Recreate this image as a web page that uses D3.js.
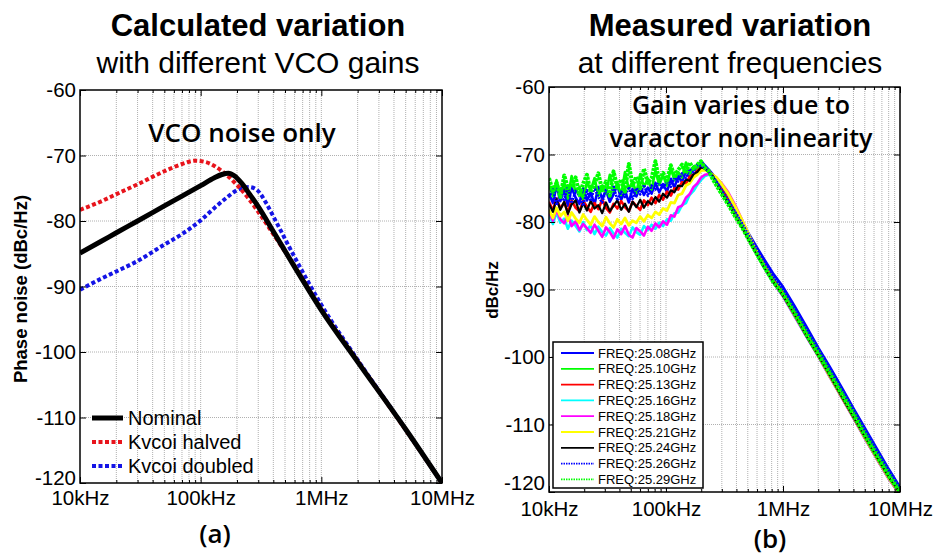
<!DOCTYPE html>
<html>
<head>
<meta charset="utf-8">
<script src="https://cdn.jsdelivr.net/npm/d3@7"></script>
<style>
  body { margin: 0; background: #fff; }
  svg { display: block; font-family: 'Liberation Sans', Arial, sans-serif; }
</style>
</head>
<body>
<svg id="chart" width="934" height="558"></svg>
<script>
// axis ticks shared by both panels
const decadeTicks = [1e4, 1e5, 1e6, 1e7];
const decadeLabels = ['10kHz', '100kHz', '1MHz', '10MHz'];
const dbTicks = [-120, -110, -100, -90, -80, -70, -60];

// (a) calculated phase noise, frequency in kHz, value in dBc/Hz
const nominalFreq = [10, 15, 20, 30, 50, 70, 100, 130, 150, 170, 190, 220, 250, 300, 400, 600, 1000, 2000, 5000, 10000];
const nominalDb = [-84.9, -83.1, -81.8, -80.0, -77.7, -76.2, -74.6, -73.4, -72.9, -72.7, -73.1, -74.3, -75.7, -77.8, -81.6, -87.0, -93.6, -101.5, -111.8, -120];
const halvedFreq = [10, 15, 20, 30, 50, 70, 90, 110, 130, 160, 200, 250, 300, 400, 600, 1000, 2000, 5000, 10000];
const halvedDb = [-78.3, -77.0, -75.9, -74.4, -72.4, -71.3, -70.8, -71.0, -71.6, -72.8, -74.5, -76.6, -78.6, -82.0, -86.9, -93.5, -101.4, -111.9, -120];
const doubledFreq = [10, 15, 20, 30, 50, 70, 100, 130, 160, 200, 250, 290, 350, 400, 600, 1000, 2000, 5000, 10000];
const doubledDb = [-90.5, -88.8, -87.7, -86.1, -83.6, -82.0, -79.9, -78.0, -76.6, -75.3, -74.8, -75.2, -77.3, -79.3, -85.5, -92.8, -101.2, -111.8, -120];
const calcLabels = ['Nominal', 'Kvcoi halved', 'Kvcoi doubled'];

// (b) measured phase noise, frequency in kHz, value in dBc/Hz
const measFreq = [10, 10.8, 11.6, 12.5, 13.5, 14.5, 15.6, 16.9, 18.2, 19.6, 21.1, 22.7, 24.5, 26.4, 28.5, 30.7,
  33.1, 35.6, 38.4, 41.4, 44.6, 48.1, 51.8, 55.8, 60.2, 64.8, 69.9, 75.3, 81.2, 87.5, 94.3, 102, 110, 118, 127, 137,
  148, 159, 172, 185, 199, 215, 231, 250, 270, 300, 340, 390, 450, 520, 600, 700, 820, 1000, 1250, 1600, 2000, 2500,
  3200, 4000, 5000, 6300, 8000, 10000];
const meas2508 = [-75.8, -77.2, -74.6, -76.9, -75.2, -77.6, -74.9, -76.4, -77.3, -75.0, -76.8, -75.6, -77.4, -74.8, -76.6, -75.3,
  -77.0, -75.9, -74.5, -76.7, -75.4, -77.1, -75.1, -76.2, -74.7, -76.0, -74.9, -75.8, -74.2, -75.6, -74.4, -75.5, -73.6, -74.9, -73.2, -74.1,
  -72.4, -73.3, -71.8, -72.2, -71.0, -71.6, -72.2, -72.9, -73.6, -75.0, -76.4, -78.2, -80.0, -82.0, -83.8, -85.7, -87.6, -89.6, -92.4, -95.6,
  -98.6, -101.4, -104.6, -107.6, -110.5, -113.5, -116.6, -119.3];
const meas2510 = [-74.5, -76.2, -73.8, -75.9, -74.1, -76.5, -73.2, -75.6, -74.8, -76.8, -74.0, -75.3, -73.5, -76.1, -74.6, -75.8,
  -73.0, -75.4, -74.2, -76.0, -72.6, -75.1, -74.0, -75.7, -72.9, -74.8, -73.6, -75.2, -72.4, -74.5, -73.1, -74.6, -72.0, -73.8, -72.6, -73.4,
  -71.2, -72.9, -71.8, -72.4, -71.3, -71.9, -72.6, -73.3, -74.3, -75.6, -77.1, -78.8, -80.5, -82.6, -84.4, -86.5, -88.3, -90.3, -93.0, -96.2,
  -99.0, -101.9, -105.1, -108.0, -111.0, -114.0, -117.0, -119.6];
const meas2513 = [-77.0, -78.3, -76.5, -78.0, -77.1, -78.6, -76.8, -77.9, -78.4, -76.9, -77.7, -78.5, -77.2, -78.1, -76.7, -77.9,
  -78.6, -77.3, -78.0, -76.9, -77.8, -78.4, -77.0, -77.6, -78.2, -76.8, -77.5, -76.4, -77.2, -76.0, -76.7, -75.5, -76.1, -75.0, -75.2, -74.1,
  -74.3, -73.3, -73.0, -72.4, -72.0, -72.1, -72.5, -73.0, -73.9, -75.0, -76.5, -78.3, -80.2, -82.3, -84.4, -86.4, -88.5, -90.6, -93.6, -96.9,
  -99.8, -102.8, -106.1, -109.0, -112.0, -115.0, -118.0, -120.4];
const meas2516 = [-79.0, -80.3, -78.6, -80.1, -79.5, -81.0, -79.8, -80.6, -81.4, -80.0, -81.2, -80.5, -81.8, -80.7, -81.5, -82.0,
  -80.9, -81.7, -82.3, -81.0, -81.6, -82.1, -80.8, -81.5, -81.9, -80.6, -81.2, -80.4, -81.0, -80.1, -80.6, -79.6, -79.8, -78.7, -78.6, -77.5,
  -77.2, -76.0, -75.4, -74.5, -73.8, -73.2, -73.0, -73.2, -73.6, -74.5, -75.9, -77.8, -80.0, -82.5, -84.8, -86.9, -88.9, -91.0, -93.9, -97.1,
  -99.9, -102.9, -106.1, -109.0, -112.0, -115.0, -118.0, -120.3];
const meas2518 = [-78.5, -79.8, -78.2, -79.6, -80.2, -79.0, -80.6, -79.9, -81.2, -80.3, -80.9, -81.6, -80.4, -81.3, -82.2, -80.8,
  -81.5, -82.4, -81.1, -81.8, -80.6, -81.9, -82.3, -80.9, -81.4, -82.0, -80.7, -81.3, -80.2, -80.8, -79.9, -80.4, -79.0, -79.2, -77.8, -77.6,
  -76.4, -75.9, -74.8, -74.3, -73.4, -73.0, -72.9, -73.0, -73.5, -74.3, -75.6, -77.5, -79.8, -82.3, -84.6, -86.8, -88.9, -91.0, -93.9, -97.1,
  -99.9, -102.9, -106.1, -109.0, -112.0, -115.0, -118.0, -120.3];
const meas2521 = [-78.2, -79.4, -77.9, -79.1, -78.5, -79.8, -78.6, -79.5, -80.1, -78.9, -79.7, -80.4, -79.2, -80.0, -80.6, -79.3,
  -80.2, -80.8, -79.6, -80.3, -79.4, -80.5, -79.8, -80.1, -79.2, -79.9, -79.0, -79.4, -78.5, -78.9, -78.0, -78.3, -77.1, -77.2, -76.0, -75.8,
  -74.6, -74.3, -73.4, -73.0, -72.4, -72.3, -72.6, -73.0, -73.4, -74.4, -75.8, -77.7, -79.8, -82.2, -84.5, -86.6, -88.7, -90.8, -93.7, -96.9,
  -99.8, -102.8, -106.0, -108.9, -111.9, -114.9, -117.9, -120.2];
const meas2524 = [-77.3, -78.5, -76.6, -78.2, -77.0, -78.8, -77.4, -76.8, -78.6, -77.2, -78.3, -76.9, -78.0, -77.5, -78.7, -77.1,
  -78.4, -77.6, -76.8, -78.2, -77.3, -78.5, -77.0, -77.8, -76.7, -77.9, -76.9, -77.4, -76.3, -77.0, -75.8, -76.4, -75.3, -75.6, -74.6, -74.7,
  -73.7, -73.9, -72.9, -72.6, -71.9, -72.1, -72.6, -73.1, -74.2, -75.6, -77.2, -79.0, -80.9, -83.0, -84.9, -86.9, -88.8, -90.9, -93.7, -97.0,
  -99.8, -102.7, -106.0, -108.9, -111.8, -114.8, -117.8, -120.2];
const meas2526 = [-76.4, -75.1, -77.5, -75.7, -76.9, -74.7, -77.2, -75.4, -76.1, -77.6, -75.3, -76.9, -74.9, -76.3, -77.1, -75.2,
  -76.4, -74.6, -76.8, -75.5, -76.3, -74.8, -76.6, -75.0, -75.9, -74.5, -76.1, -74.6, -75.2, -74.0, -75.1, -73.9, -74.8, -73.4, -74.0, -72.8,
  -73.5, -72.1, -72.6, -71.5, -71.7, -72.0, -72.6, -73.2, -74.0, -75.3, -76.8, -78.5, -80.3, -82.3, -84.2, -86.1, -88.0, -90.0, -92.8, -96.0,
  -98.9, -101.8, -105.0, -107.9, -110.9, -113.9, -116.9, -119.5];
const meas2529 = [-73.5, -75.4, -74.2, -76.3, -73.1, -75.0, -74.7, -73.4, -76.0, -74.3, -73.0, -75.6, -74.4, -72.8, -75.3, -74.0,
  -76.1, -72.5, -74.9, -73.7, -75.5, -71.4, -74.6, -73.3, -75.0, -72.1, -74.2, -73.5, -71.0, -74.0, -72.7, -73.9, -71.6, -73.2, -72.3, -71.5,
  -72.8, -71.2, -72.1, -71.5, -71.0, -72.0, -72.4, -73.6, -74.6, -75.9, -77.4, -79.2, -80.9, -82.9, -84.8, -86.8, -88.8, -90.7, -93.5, -96.8,
  -99.6, -102.4, -105.6, -108.6, -111.6, -114.6, -117.6, -120.0];
const measLabels = ['FREQ:25.08GHz', 'FREQ:25.10GHz', 'FREQ:25.13GHz', 'FREQ:25.16GHz', 'FREQ:25.18GHz',
  'FREQ:25.21GHz', 'FREQ:25.24GHz', 'FREQ:25.26GHz', 'FREQ:25.29GHz'];

const calcSeries = [
  { freq: nominalFreq, db: nominalDb, color: '#000', width: 5, dash: null },
  { freq: halvedFreq, db: halvedDb, color: '#e8141c', width: 4, dash: '4,2.5' },
  { freq: doubledFreq, db: doubledDb, color: '#1414e6', width: 4, dash: '4,2.5' },
];
const measSeries = [
  { db: meas2508, color: '#0000ff', width: 2.6, dash: null },
  { db: meas2510, color: '#00ff00', width: 2.6, dash: null },
  { db: meas2513, color: '#ff0000', width: 2.6, dash: null },
  { db: meas2516, color: '#00ffff', width: 2.6, dash: null },
  { db: meas2518, color: '#ff00ff', width: 2.6, dash: null },
  { db: meas2521, color: '#ffff00', width: 2.8, dash: null },
  { db: meas2524, color: '#000000', width: 2.2, dash: null },
  { db: meas2526, color: '#0000ff', width: 2.6, dash: '2,1' },
  { db: meas2529, color: '#00ff00', width: 4, dash: '3,1' },
];

const svg = d3.select('#chart');
const tickFont = "'Liberation Sans', Arial, sans-serif";

function drawPanel(box, clipId, labelPad) {
  const x = d3.scaleLog().domain([1e4, 1e7]).range([box.left, box.right]);
  const y = d3.scaleLinear().domain([-120, -60]).range([box.bottom, box.top]);
  const minorTicks = x.ticks().filter((d) => !decadeTicks.includes(d));
  const panel = svg.append('g');

  // dotted grid
  const grid = panel.append('g').attr('stroke', '#b0b0b0').attr('stroke-dasharray', '1,1');
  grid
    .selectAll('.vgrid')
    .data([...minorTicks, ...decadeTicks.slice(1, -1)])
    .join('line')
    .attr('x1', (d) => x(d))
    .attr('x2', (d) => x(d))
    .attr('y1', box.top)
    .attr('y2', box.bottom);
  grid
    .selectAll('.hgrid')
    .data(dbTicks.slice(1, -1))
    .join('line')
    .attr('x1', box.left)
    .attr('x2', box.right)
    .attr('y1', (d) => y(d))
    .attr('y2', (d) => y(d));

  svg.append('clipPath').attr('id', clipId).append('rect')
    .attr('x', box.left).attr('y', box.top)
    .attr('width', box.right - box.left).attr('height', box.bottom - box.top);
  const plot = panel.append('g').attr('clip-path', `url(#${clipId})`);

  // axes, ticks pointing inwards like matlab
  const axes = panel.append('g');
  const gx = axes.append('g').attr('transform', `translate(0,${box.bottom})`)
    .call(d3.axisBottom(x).tickValues(decadeTicks).tickFormat((d, i) => decadeLabels[i]).tickSizeInner(-6).tickSizeOuter(0).tickPadding(labelPad));
  axes.append('g').attr('transform', `translate(0,${box.bottom})`)
    .call(d3.axisBottom(x).tickValues(minorTicks).tickFormat('').tickSizeInner(-3).tickSizeOuter(0));
  axes.append('g').attr('transform', `translate(0,${box.top})`)
    .call(d3.axisTop(x).tickValues(decadeTicks).tickFormat('').tickSizeInner(-6).tickSizeOuter(0));
  axes.append('g').attr('transform', `translate(0,${box.top})`)
    .call(d3.axisTop(x).tickValues(minorTicks).tickFormat('').tickSizeInner(-3).tickSizeOuter(0));
  const gy = axes.append('g').attr('transform', `translate(${box.left},0)`)
    .call(d3.axisLeft(y).tickValues(dbTicks).tickFormat((d) => String(d)).tickSizeInner(-6).tickSizeOuter(0).tickPadding(4));
  axes.append('g').attr('transform', `translate(${box.right},0)`)
    .call(d3.axisRight(y).tickValues(dbTicks).tickFormat('').tickSizeInner(-6).tickSizeOuter(0));
  axes.selectAll('.domain').remove();
  axes.selectAll('.tick line').attr('stroke', '#000');
  axes.selectAll('text').attr('font-family', tickFont).attr('font-size', 20.5).attr('fill', '#000');

  panel.append('rect')
    .attr('x', box.left).attr('y', box.top)
    .attr('width', box.right - box.left).attr('height', box.bottom - box.top)
    .attr('fill', 'none').attr('stroke', '#000').attr('stroke-width', 1.5);

  return { x, y, plot, panel, gx, gy };
}

function addTitle(cx, bold, plain) {
  svg.append('text').attr('x', cx).attr('y', 36).attr('text-anchor', 'middle')
    .attr('font-size', 31).attr('font-weight', 'bold').text(bold);
  svg.append('text').attr('x', cx).attr('y', 73).attr('text-anchor', 'middle')
    .attr('font-size', 30).text(plain);
}

function addNote(lines, cx, y0, size) {
  const t = svg.append('text').attr('text-anchor', 'middle')
    .attr('font-family', "'Open Sans', sans-serif").attr('font-weight', 600).attr('font-size', size);
  lines.forEach((s, i) => t.append('tspan').attr('x', cx).attr('y', y0 + i * 33).text(s));
}

// ---------- (a) calculated ----------
const a = drawPanel({ left: 80, right: 442, top: 90, bottom: 483 }, 'clip-a', 7);
a.gy.selectAll('.tick').filter((d) => d === -120).select('text').attr('dy', '0.05em');
const calcLine = d3.line().x((d) => a.x(d[0] * 1e3)).y((d) => a.y(d[1])).curve(d3.curveMonotoneX);
calcSeries.slice().reverse().forEach((s) => {
  a.plot.append('path')
    .datum(s.freq.map((f, i) => [f, s.db[i]]))
    .attr('d', calcLine)
    .attr('fill', 'none')
    .attr('stroke', s.color)
    .attr('stroke-width', s.width)
    .attr('stroke-dasharray', s.dash);
});

const legendA = a.panel.append('g');
calcSeries.forEach((s, i) => {
  const ly = 418 + i * 24;
  legendA.append('line').attr('x1', 92).attr('x2', 123).attr('y1', ly).attr('y2', ly)
    .attr('stroke', s.color).attr('stroke-width', s.width).attr('stroke-dasharray', s.dash);
  legendA.append('text').attr('x', 128).attr('y', ly + 7).attr('font-size', 20).text(calcLabels[i]);
});

svg.append('text')
  .attr('transform', 'translate(27,289) rotate(-90)')
  .attr('text-anchor', 'middle').attr('font-size', 18.5).attr('font-weight', 'bold')
  .text('Phase noise (dBc/Hz)');
addTitle(258, 'Calculated variation', 'with different VCO gains');
addNote(['VCO noise only'], 242, 142, 26);
addNote(['(a)'], 215, 543, 26);

// ---------- (b) measured ----------
const b = drawPanel({ left: 549, right: 900, top: 87, bottom: 492 }, 'clip-b', 9);
b.gy.selectAll('.tick').filter((d) => d === -120).select('text').attr('dy', '-0.1em');
const measLine = d3.line().x((d) => b.x(d[0] * 1e3)).y((d) => b.y(d[1]));
measSeries.forEach((s) => {
  b.plot.append('path')
    .datum(measFreq.map((f, i) => [f, s.db[i]]))
    .attr('d', measLine)
    .attr('fill', 'none')
    .attr('stroke', s.color)
    .attr('stroke-width', s.width)
    .attr('stroke-dasharray', s.dash)
    .attr('stroke-linejoin', 'round');
});

const legendB = b.panel.append('g');
legendB.append('rect').attr('x', 553).attr('y', 342).attr('width', 150).attr('height', 146)
  .attr('fill', '#fff').attr('stroke', '#000').attr('stroke-width', 1.5);
measSeries.forEach((s, i) => {
  const ly = 353 + i * 15.8;
  legendB.append('line').attr('x1', 561).attr('x2', 594).attr('y1', ly).attr('y2', ly)
    .attr('stroke', s.color).attr('stroke-width', 1.8).attr('stroke-dasharray', s.dash ? '1.5,1' : null);
  legendB.append('text').attr('x', 598).attr('y', ly + 4.6).attr('font-size', 13).text(measLabels[i]);
});

svg.append('text')
  .attr('transform', 'translate(498,290) rotate(-90)')
  .attr('text-anchor', 'middle').attr('font-size', 17).attr('font-weight', 'bold')
  .text('dBc/Hz');
addTitle(730, 'Measured variation', 'at different frequencies');
addNote(['Gain varies due to', 'varactor non-linearity'], 741, 114, 25);
addNote(['(b)'], 770, 548, 26);
</script>
</body>
</html>
